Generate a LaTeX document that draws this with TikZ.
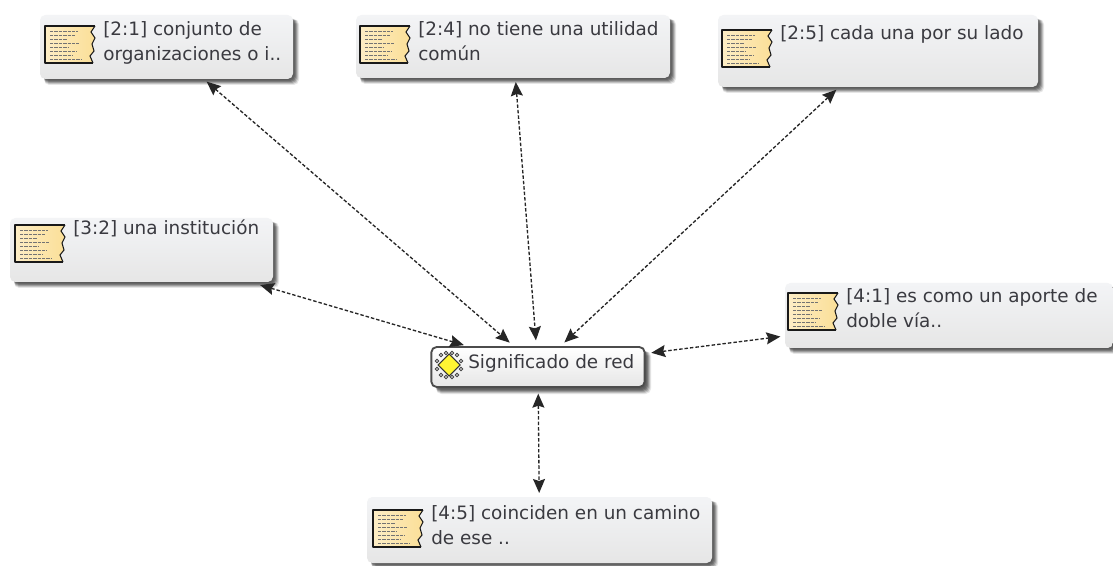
\documentclass[tikz,border=0pt]{standalone}
\usepackage{fontspec}
\setmainfont{DejaVu Sans}
\usetikzlibrary{arrows.meta,shadings}
\definecolor{txt}{HTML}{3A3A40}
\definecolor{boxtop}{HTML}{F3F4F6}
\definecolor{boxbot}{HTML}{E6E6E6}
\definecolor{paper}{HTML}{FBDF98}
\tikzset{
  x=0.75pt,y=-0.75pt,
  boxnode/.style={rectangle,rounded corners=4pt,top color=boxtop,bottom color=boxbot,draw=none,inner sep=0pt,outer sep=0pt},
  labeltext/.style={anchor=north west,inner sep=0pt,align=left,text=txt,font=\fontsize{13.8}{18.8}\selectfont},
  link/.style={draw=black!85,line width=1pt,dash pattern=on 2.6pt off 1.5pt,{Stealth[length=10.5pt,width=9pt,inset=1.5pt]}-{Stealth[length=10.5pt,width=9pt,inset=1.5pt]},shorten <=3pt,shorten >=5pt},
}
\newcommand{\softshadow}[4]{%
  \foreach \k/\op in {6/0.15,5/0.25,4/0.35,3/0.5,2/0.6,1/0.7}{%
    \fill[black!65,opacity=\op,rounded corners=4pt] ({#1+4},{#2+4}) rectangle ({#3+\k},{#4+\k});
  }}
\newcommand{\noteicon}[2]{%
  \begin{scope}[shift={(#1,#2)}]
    \path[left color=paper!55,right color=paper,middle color=paper!80] (0,0) -- (50,0) -- (46,6) -- (50,12) -- (47,18) -- (49,25) -- (45,30) -- (48,37) -- (0,37) -- cycle;
    \draw[black!90,line width=0.8pt,line join=round] (48,37) -- (0,37) -- (0,0) -- (50,0);
    \draw[black!90,line width=0.8pt] (50,0) -- (46,6) -- (50,12) -- (47,18) -- (49,25) -- (45,30) -- (48,37);
    \foreach \yy/\xe in {5/33,9/30,13/22,17/34,21/24,25/32,29/28,33/36}{
      \draw[black!55,line width=0.7pt,dash pattern=on 2.5pt off 0.8pt] (5,\yy) -- (\xe,\yy);
    }
  \end{scope}}
% #1 name, #2..#5 box corners, #6 icon x, #7 icon y, #8 text
\newcommand{\notebox}[8]{%
  \softshadow{#2}{#3}{#4}{#5}
  \pgfmathsetlengthmacro{\bw}{(#4-#2)*0.75pt}
  \pgfmathsetlengthmacro{\bh}{(#5-#3)*0.75pt}
  \node[boxnode,minimum width=\bw,minimum height=\bh] (#1) at ({(#2+#4)/2},{(#3+#5)/2}) {};
  \noteicon{#6}{#7}
  \node[labeltext] (#1t) at ({#6+58},{#7-5}) {#8};
}
\begin{document}
\begin{tikzpicture}
\useasboundingbox[fill=white] (0,0) rectangle (1113,566);
\notebox{a}{40}{15}{293}{79}{45}{26}{[2:1] conjunto de\\organizaciones o i..}
\notebox{b}{356}{15}{670}{78}{360}{26}{[2:4] no tiene una utilidad\\común}
\notebox{c}{718}{15}{1038}{87}{722}{30}{[2:5] cada una por su lado}
\notebox{d}{10}{218}{273}{282}{15}{225}{[3:2] una institución}
\notebox{e}{785}{283}{1113}{348}{788}{293}{[4:1] es como un aporte de\\doble vía..}
\notebox{f}{367}{497}{712}{563}{373}{510}{[4:5] coinciden en un camino\\de ese ..}
% centre node
\softshadow{432}{347}{645}{388}
\node[boxnode,draw=black!70,line width=1.4pt,minimum width=160pt,minimum height=30pt,top color=white,bottom color=boxbot] (m) at (538,367) {};
\begin{scope}[shift={(449,365)}]
  \foreach \dx/\dy in {-8/-10,-3/-12,3/-12,8/-10,-8/10,-3/12,3/12,8/10,-12/-4,12/-4,-12/4,12/4}{
    \draw[black!75,line width=0.6pt,fill=white] (\dx,\dy) circle (1.8);
  }
  \draw[black!80,line width=0.8pt,fill=yellow!80!white] (0,-11) -- (11,0) -- (0,11) -- (-11,0) -- cycle;
\end{scope}
\node[anchor=west,inner sep=0pt,text=txt,font=\fontsize{13.8}{16}\selectfont] (mt) at (468,363) {Significado de red};
\draw[link] (a) -- (m);
\draw[link] (b) -- (m);
\draw[link] (c) -- (m);
\draw[link,shorten <=8pt] (d) -- (m);
\draw[link,shorten <=5pt,shorten >=3.5pt] (m) -- (e);
\draw[link,shorten <=5pt,shorten >=3pt] (m) -- (f);
\end{tikzpicture}
\end{document}
